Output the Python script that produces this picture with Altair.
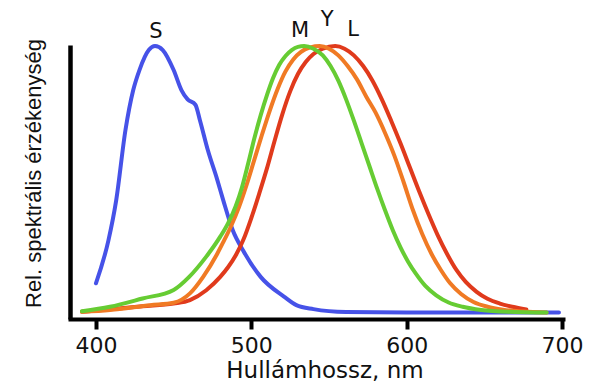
import altair as alt
import pandas as pd

# ---- data ----
s_nm = [400, 408, 413, 419, 424, 428, 434, 438, 443, 450, 455, 459, 464, 467, 472, 478, 482, 488, 495, 506, 521, 529, 540, 561, 600, 698]
s_val = [0.11, 0.27, 0.42, 0.685, 0.835, 0.91, 0.985, 1.0, 0.985, 0.91, 0.835, 0.80, 0.78, 0.72, 0.61, 0.50, 0.42, 0.31, 0.23, 0.134, 0.06, 0.028, 0.013, 0.002, 0.0, 0.0]

m_nm = [391, 409, 430, 450, 460, 471, 480, 485, 490, 494, 498, 502, 506, 510, 514, 518, 522, 526, 530, 534,
        540, 546, 551, 556, 561, 566, 571, 576, 581, 586, 591, 596, 601, 606, 612, 619, 627, 636, 648, 665, 690]
m_val = [0.005, 0.022, 0.053, 0.085, 0.134, 0.21, 0.285, 0.335, 0.40, 0.47, 0.56, 0.655, 0.74, 0.815, 0.88, 0.93, 0.963, 0.985, 0.997, 1.0,
         0.99, 0.965, 0.925, 0.87, 0.80, 0.72, 0.635, 0.55, 0.465, 0.385, 0.31, 0.245, 0.19, 0.145, 0.10, 0.065, 0.038, 0.022, 0.01, 0.003, 0.0]

y_nm = [391, 409, 435, 450, 460.5, 469, 478, 482, 487, 492, 497, 502, 507, 512, 517, 522, 527, 532, 538, 544,
        550, 556, 562, 568, 574, 580, 586, 592, 598, 604, 610, 616, 622, 628, 635, 643, 652, 662, 675, 690]
y_val = [0.003, 0.01, 0.028, 0.037, 0.072, 0.134, 0.22, 0.265, 0.325, 0.395, 0.48, 0.575, 0.67, 0.76, 0.84, 0.905, 0.95, 0.978, 0.995, 1.0,
         0.99, 0.965, 0.925, 0.875, 0.81, 0.75, 0.675, 0.59, 0.49, 0.385, 0.295, 0.22, 0.16, 0.11, 0.07, 0.04, 0.022, 0.011, 0.004, 0.0]

l_nm = [391, 430, 450, 460.5, 471, 480, 485, 490, 495, 500, 505, 510, 515, 520, 525, 530, 535, 540, 546, 554,
        560, 566, 572, 578, 584, 590, 596, 602, 608, 614, 620, 626, 632, 638, 645, 652, 660, 668, 677]
l_val = [0.003, 0.024, 0.034, 0.047, 0.084, 0.134, 0.17, 0.215, 0.275, 0.355, 0.445, 0.54, 0.645, 0.745, 0.83, 0.895, 0.94, 0.97, 0.99, 1.0,
         0.99, 0.965, 0.925, 0.87, 0.80, 0.72, 0.635, 0.545, 0.455, 0.37, 0.29, 0.22, 0.16, 0.115, 0.078, 0.052, 0.034, 0.022, 0.012]

label_text = ["S", "M", "Y", "L"]
label_nm = [438.6, 531.4, 548.8, 565.5]
label_val = [1.03, 1.034, 1.075, 1.0375]

x_ticks = [400, 500, 600, 700]

curves = [
    ("S", s_nm, s_val, "#4652e8"),
    ("L", l_nm, l_val, "#e03a1c"),
    ("Y", y_nm, y_val, "#f07a24"),
    ("M", m_nm, m_val, "#66cc33"),
]

x_scale = alt.Scale(domain=[383.3, 700.6], nice=False, zero=False)
y_scale = alt.Scale(domain=[-0.024, 1.004], nice=False, zero=False)

x_axis = alt.Axis(
    values=x_ticks, title="Hullámhossz, nm", grid=False,
    domainColor="black", domainWidth=4, domainCap="square",
    tickColor="black", tickWidth=4, tickSize=10,
    labelFont="DejaVu Sans", labelFontSize=22, labelColor="#111111",
    labelBaseline="alphabetic", labelPadding=23, labelFlush=False,
    titleFont="DejaVu Sans", titleFontSize=23, titleFontWeight="normal",
    titleColor="#111111", titleX=254.5, titleY=58,
    titleBaseline="alphabetic", titleAlign="center",
)
y_axis = alt.Axis(
    title="Rel. spektrális érzékenység", grid=False, labels=False, ticks=False,
    domainColor="black", domainWidth=4.5,
    titleFont="Liberation Sans", titleFontSize=22, titleFontWeight="normal",
    titleColor="#111111", titleX=-30, titleY=128, titleAngle=270,
    titleBaseline="alphabetic", titleAlign="center",
)

layers = []
for name, xs, vs, col in curves:
    df = pd.DataFrame({"nm": xs, "val": vs, "cone": name})
    layers.append(
        alt.Chart(df).mark_line(color=col, strokeWidth=4, interpolate="monotone", strokeCap="round").encode(
            x=alt.X("nm:Q", scale=x_scale, axis=x_axis),
            y=alt.Y("val:Q", scale=y_scale, axis=y_axis),
        )
    )

lab_df = pd.DataFrame({"nm": label_nm, "val": label_val, "t": label_text})
layers.append(
    alt.Chart(lab_df).mark_text(font="DejaVu Sans", fontSize=21, color="#111111",
                                baseline="alphabetic", align="center").encode(
        x=alt.X("nm:Q", scale=x_scale, axis=x_axis),
        y=alt.Y("val:Q", scale=y_scale, axis=y_axis),
        text="t:N",
    )
)

chart = alt.layer(*layers).properties(
    width=493, height=274,
    autosize=alt.AutoSizeParams(type="none"),
    padding={"left": 62, "top": 37, "right": 22, "bottom": 62},
).configure_view(stroke=None)

chart.save("out.html", embed_options={"renderer": "svg", "actions": False})
